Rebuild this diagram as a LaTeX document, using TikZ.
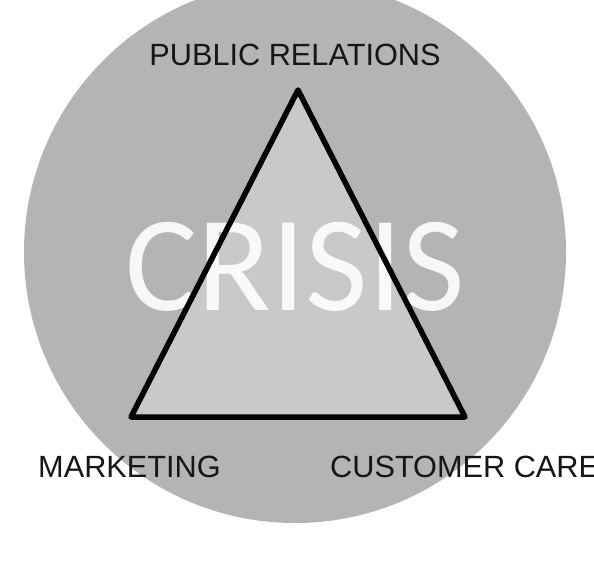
\documentclass[tikz,border=0pt]{standalone}
\usepackage{fontspec}
\setmainfont{Liberation Sans}
\newfontfamily\crisisfont{Carlito}
\definecolor{discgray}{HTML}{B4B4B4}
\definecolor{trigray}{HTML}{C9C9C9}
\definecolor{labelblack}{HTML}{161616}
\begin{document}
\begin{tikzpicture}[x=1pt,y=-1pt,
  label/.style={inner sep=0pt,text=labelblack,font=\fontsize{30.7}{32}\selectfont},
  edge/.style={line width=5.5pt,line join=round,line cap=round}]
\useasboundingbox[fill=white] (0,0) rectangle (594,563);
\coordinate (O) at (295,252);
\coordinate (A) at (298,90);
\coordinate (B) at (131,417);
\coordinate (C) at (465,417);
\fill[discgray] (O) circle[radius=271pt];
\fill[trigray] (A) -- (B) -- (C) -- cycle;
\node[anchor=base,inner sep=0pt,text=white,opacity=0.9,
  font=\fontsize{136}{140}\crisisfont] (crisis) at (295,310) {CRISIS};
\draw[edge] (A) -- (B) -- (C) -- cycle;
\node[label,anchor=base] (pr) at (295,65) {PUBLIC RELATIONS};
\node[label,anchor=base west] (mk) at (38,477) {MARKETING};
\node[label,anchor=base west] (cc) at (330,477) {CUSTOMER CARE};
\end{tikzpicture}
\end{document}
